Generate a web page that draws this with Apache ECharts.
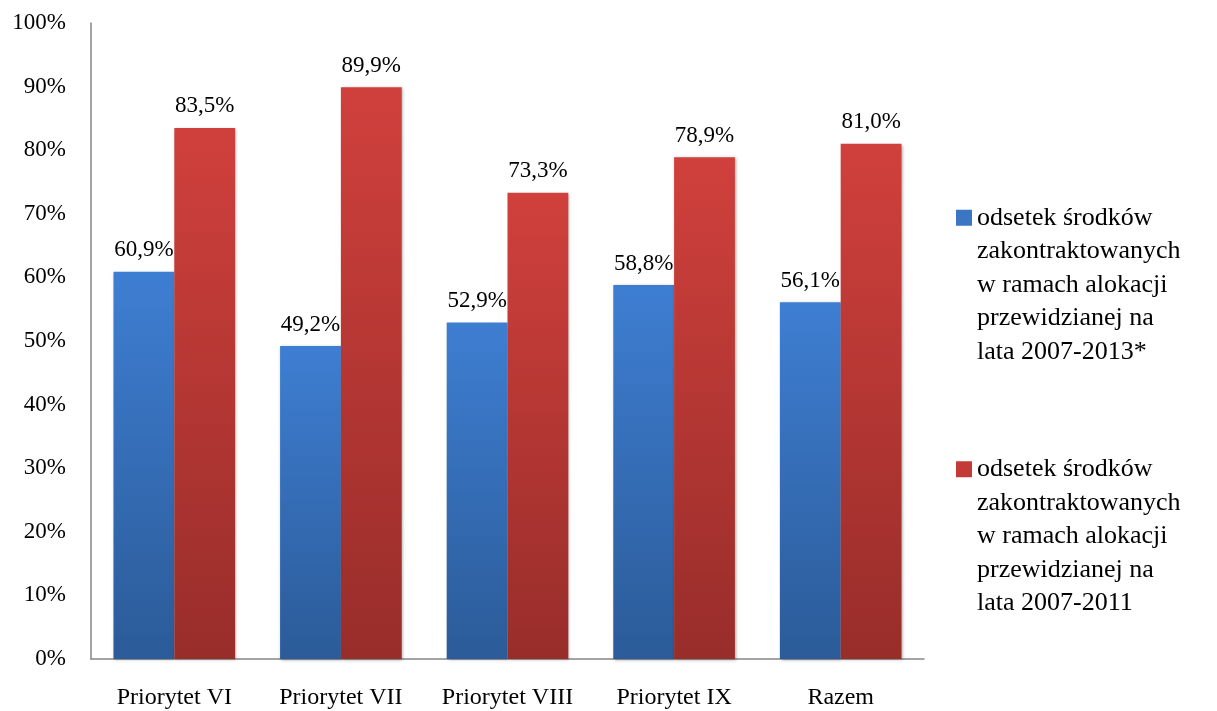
<!DOCTYPE html>
<html>
<head>
<meta charset="utf-8">
<script src="https://cdn.jsdelivr.net/npm/echarts@6/dist/echarts.min.js"></script>
<style>
html,body{margin:0;padding:0;background:#fff;}
#chart{width:1217px;height:711px;}
</style>
</head>
<body>
<div id="chart"></div>
<script>
const categories = ['Priorytet VI', 'Priorytet VII', 'Priorytet VIII', 'Priorytet IX', 'Razem'];
const series2013 = [60.9, 49.2, 52.9, 58.8, 56.1];
const series2011 = [83.5, 89.9, 73.3, 78.9, 81.0];
const seriesNames = [
  'odsetek środków\nzakontraktowanych\nw ramach alokacji\nprzewidzianej na\nlata 2007-2013*',
  'odsetek środków\nzakontraktowanych\nw ramach alokacji\nprzewidzianej na\nlata 2007-2011'
];

const FONT = '"Liberation Serif", "Times New Roman", serif';
const blueGrad = new echarts.graphic.LinearGradient(0, 0, 0, 1, [
  {offset: 0, color: '#3e7ed2'}, {offset: 1, color: '#2b5b98'}
]);
const redGrad = new echarts.graphic.LinearGradient(0, 0, 0, 1, [
  {offset: 0, color: '#d0403c'}, {offset: 1, color: '#982d2a'}
]);
const fmt = p => p.value.toFixed(1).replace('.', ',') + '%';
// legend marker: square at the top of a tall (invisible) box so it sits on the first text line
const topSquare = 'path://M0,0L16,0L16,16L0,16Z M0,150L0.01,150L0,150.01Z';

const chart = echarts.init(document.getElementById('chart'));
chart.setOption({
  animation: false,
  backgroundColor: '#fff',
  grid: {left: 91, right: 293, top: 23, bottom: 52},
  legend: {
    orient: 'vertical',
    left: 951,
    top: 196,
    itemWidth: 16,
    itemHeight: 166,
    itemGap: 84,
    symbolKeepAspect: true,
    textStyle: {fontFamily: FONT, fontSize: 26, color: '#000', lineHeight: 33.5},
    data: [
      {name: seriesNames[0], icon: topSquare, itemStyle: {color: '#3a76c4'}},
      {name: seriesNames[1], icon: topSquare, itemStyle: {color: '#c23b37'}}
    ]
  },
  xAxis: {
    type: 'category',
    data: categories,
    axisLine: {lineStyle: {color: '#868686', width: 1.5}},
    axisTick: {show: false},
    axisLabel: {interval: 0, fontFamily: FONT, fontSize: 24, color: '#000', margin: 27}
  },
  yAxis: {
    type: 'value',
    min: 0, max: 100, interval: 10,
    splitLine: {show: false},
    axisLine: {show: true, lineStyle: {color: '#868686', width: 1.5}},
    axisTick: {show: false},
    axisLabel: {fontFamily: FONT, fontSize: 23, color: '#000', margin: 25,
      lineHeight: 30, verticalAlign: 'middle', formatter: v => v + '%'}
  },
  series: [
    {
      name: seriesNames[0], type: 'bar', data: series2013,
      barGap: '0%', barCategoryGap: '27%',
      itemStyle: {color: blueGrad, shadowBlur: 3, shadowColor: 'rgba(0,0,0,0.35)', shadowOffsetX: 1, shadowOffsetY: 1},
      label: {show: true, position: 'top', distance: 10, formatter: fmt,
        fontFamily: FONT, fontSize: 23, color: '#000'}
    },
    {
      name: seriesNames[1], type: 'bar', data: series2011,
      itemStyle: {color: redGrad, shadowBlur: 3, shadowColor: 'rgba(0,0,0,0.35)', shadowOffsetX: 1, shadowOffsetY: 1},
      label: {show: true, position: 'top', distance: 10, formatter: fmt,
        fontFamily: FONT, fontSize: 23, color: '#000'}
    }
  ]
});
</script>
</body>
</html>
